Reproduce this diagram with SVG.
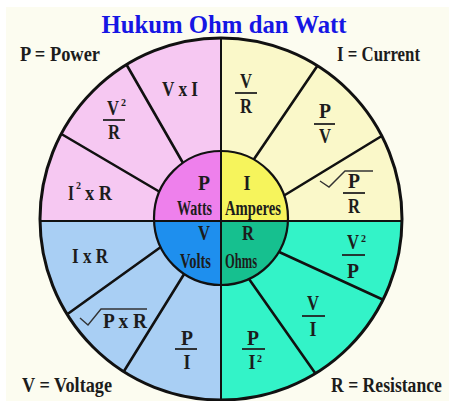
<svg xmlns="http://www.w3.org/2000/svg" width="449" height="401" viewBox="0 0 449 401">
<defs>
<style>
.t{font-family:"Liberation Serif","Times New Roman",serif;font-weight:bold;fill:#1c1c1c;font-size:21px}
.m{text-anchor:middle}
.s{font-size:10px}
.c{font-size:20px}
.spoke{stroke:#111;stroke-width:2.6;fill:none;stroke-linecap:round}
.fl{stroke:#222;stroke-width:1.8}
.sq{stroke:#333;stroke-width:1.4;fill:none}
</style>
<clipPath id="outer"><ellipse cx="221" cy="219" rx="181" ry="181"/></clipPath>
<clipPath id="inner"><circle cx="221" cy="218" r="67"/></clipPath>
</defs>
<rect width="449" height="401" fill="#fcfcf0"/>
<rect width="449" height="7" fill="#ffffff"/>
<rect width="6" height="401" fill="#ffffff"/>
<text x="224" y="33" text-anchor="middle" font-family="Liberation Serif, serif" font-weight="bold" font-size="26" fill="#1616e4" textLength="245" lengthAdjust="spacingAndGlyphs">Hukum Ohm dan Watt</text>

<g id="quadrants" clip-path="url(#outer)">
<rect x="30" y="30" width="191" height="191" fill="#f6c8f2"/>
<rect x="221" y="30" width="190" height="191" fill="#faf8c9"/>
<rect x="30" y="221" width="191" height="190" fill="#a9cff4"/>
<rect x="221" y="221" width="190" height="190" fill="#33f3c8"/>
</g>

<g id="connectors">
<g clip-path="url(#outer)">
<line class="spoke" x1="250" y1="165" x2="320" y2="62"/>
<line class="spoke" x1="280" y1="198" x2="385" y2="134"/>
<line class="spoke" x1="187" y1="170" x2="125" y2="62"/>
<line class="spoke" x1="165" y1="195" x2="58" y2="132"/>
<line class="spoke" x1="165" y1="244" x2="62" y2="318"/>
<line class="spoke" x1="186" y1="271" x2="121" y2="376"/>
<line class="spoke" x1="277" y1="251" x2="388" y2="302"/>
<line class="spoke" x1="249" y1="279" x2="320" y2="380"/>
<line x1="221" y1="30" x2="221" y2="410" stroke="#111" stroke-width="2"/>
<line x1="30" y1="221" x2="410" y2="221" stroke="#111" stroke-width="2"/>
</g>
</g>

<g id="center">
<g clip-path="url(#inner)">
<rect x="150" y="148" width="71" height="73" fill="#ee80ec"/>
<rect x="221" y="148" width="71" height="73" fill="#f6f45c"/>
<rect x="150" y="221" width="71" height="70" fill="#1e8fee"/>
<rect x="221" y="221" width="71" height="70" fill="#16c08f"/>
</g>
<circle cx="221" cy="218" r="67" fill="none" stroke="#111" stroke-width="2.2"/>
<line x1="221" y1="151" x2="221" y2="285" stroke="#111" stroke-width="2"/>
<line x1="154" y1="221" x2="288" y2="221" stroke="#111" stroke-width="2"/>
</g>

<ellipse cx="221" cy="219" rx="181" ry="181" fill="none" stroke="#111" stroke-width="3"/>

<g id="node-watts">
<text class="t m" x="204" y="190" textLength="12" lengthAdjust="spacingAndGlyphs">P</text>
<text class="t c" x="177" y="215" textLength="35" lengthAdjust="spacingAndGlyphs">Watts</text>
</g>
<g id="node-amperes">
<text class="t m" x="247" y="190" textLength="7" lengthAdjust="spacingAndGlyphs">I</text>
<text class="t c" x="225" y="215" textLength="56" lengthAdjust="spacingAndGlyphs">Amperes</text>
</g>
<g id="node-volts">
<text class="t m" x="204" y="240" textLength="12" lengthAdjust="spacingAndGlyphs">V</text>
<text class="t c" x="180" y="268" textLength="31" lengthAdjust="spacingAndGlyphs">Volts</text>
</g>
<g id="node-ohms">
<text class="t m" x="248" y="240" textLength="12" lengthAdjust="spacingAndGlyphs">R</text>
<text class="t c" x="225" y="268" textLength="32" lengthAdjust="spacingAndGlyphs">Ohms</text>
</g>

<g id="label-power"><text class="t" x="20" y="61" textLength="80" lengthAdjust="spacingAndGlyphs">P = Power</text></g>
<g id="label-current"><text class="t" x="337" y="61" textLength="83" lengthAdjust="spacingAndGlyphs">I = Current</text></g>
<g id="label-voltage"><text class="t" x="22" y="392" textLength="90" lengthAdjust="spacingAndGlyphs">V = Voltage</text></g>
<g id="label-resistance" transform="translate(331,392) scale(0.84,1)"><text class="t" x="0" y="0">R = Resistance</text></g>

<g id="f-vxi"><text class="t" x="162" y="96" textLength="36" lengthAdjust="spacingAndGlyphs">V x I</text></g>
<g id="f-v2r">
<text class="t m" x="113" y="115" textLength="12" lengthAdjust="spacingAndGlyphs">V</text>
<text class="t s" x="121" y="106">2</text>
<line class="fl" x1="103" y1="120" x2="125" y2="120"/>
<text class="t m" x="114" y="139" textLength="12" lengthAdjust="spacingAndGlyphs">R</text>
</g>
<g id="f-i2r">
<text class="t" x="68" y="200" textLength="6" lengthAdjust="spacingAndGlyphs">I</text>
<text class="t s" x="76" y="189">2</text>
<text class="t" x="85" y="200" textLength="27" lengthAdjust="spacingAndGlyphs">x R</text>
</g>
<g id="f-vr">
<text class="t m" x="246" y="88" textLength="12" lengthAdjust="spacingAndGlyphs">V</text>
<line class="fl" x1="235" y1="93" x2="257" y2="93"/>
<text class="t m" x="246" y="113" textLength="12" lengthAdjust="spacingAndGlyphs">R</text>
</g>
<g id="f-pv">
<text class="t m" x="325" y="118" textLength="12" lengthAdjust="spacingAndGlyphs">P</text>
<line class="fl" x1="314" y1="124" x2="335" y2="124"/>
<text class="t m" x="325" y="143" textLength="12" lengthAdjust="spacingAndGlyphs">V</text>
</g>
<g id="f-sqrtpr">
<polyline class="sq" points="320,181 329,187 345,171 373,171"/>
<text class="t m" x="354" y="188" textLength="12" lengthAdjust="spacingAndGlyphs">P</text>
<line class="fl" x1="343" y1="193" x2="365" y2="193"/>
<text class="t m" x="354" y="213" textLength="12" lengthAdjust="spacingAndGlyphs">R</text>
</g>
<g id="f-ixr"><text class="t" x="72" y="263" textLength="36" lengthAdjust="spacingAndGlyphs">I x R</text></g>
<g id="f-sqrtpxr">
<polyline class="sq" points="80,318 88,325 101,309 147,309"/>
<text class="t" x="103" y="328" textLength="44" lengthAdjust="spacingAndGlyphs">P x R</text>
</g>
<g id="f-pi">
<text class="t m" x="187" y="345" textLength="12" lengthAdjust="spacingAndGlyphs">P</text>
<line class="fl" x1="175" y1="349" x2="197" y2="349"/>
<text class="t m" x="187" y="369" textLength="7" lengthAdjust="spacingAndGlyphs">I</text>
</g>
<g id="f-pi2">
<text class="t m" x="253" y="345" textLength="12" lengthAdjust="spacingAndGlyphs">P</text>
<line class="fl" x1="242" y1="349" x2="265" y2="349"/>
<text class="t m" x="252" y="369" textLength="7" lengthAdjust="spacingAndGlyphs">I</text>
<text class="t s" x="257" y="362">2</text>
</g>
<g id="f-vi">
<text class="t m" x="313" y="310" textLength="12" lengthAdjust="spacingAndGlyphs">V</text>
<line class="fl" x1="302" y1="316" x2="325" y2="316"/>
<text class="t m" x="313" y="336" textLength="7" lengthAdjust="spacingAndGlyphs">I</text>
</g>
<g id="f-v2p">
<text class="t m" x="353" y="249" textLength="12" lengthAdjust="spacingAndGlyphs">V</text>
<text class="t s" x="361" y="242">2</text>
<line class="fl" x1="342" y1="255" x2="365" y2="255"/>
<text class="t m" x="353" y="278" textLength="12" lengthAdjust="spacingAndGlyphs">P</text>
</g>
</svg>
